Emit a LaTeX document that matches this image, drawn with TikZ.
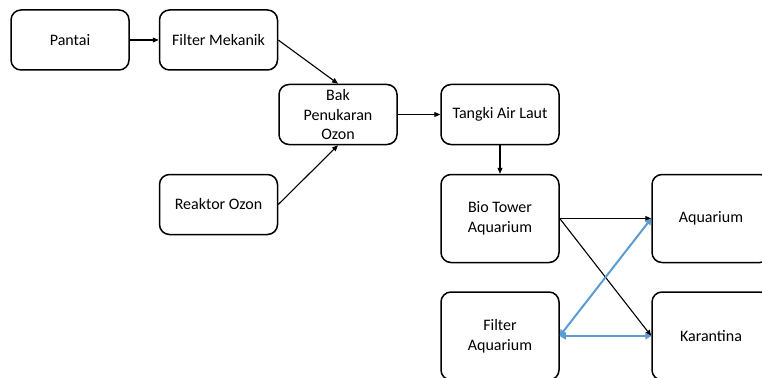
\documentclass[tikz,border=0pt]{standalone}
\usepackage{fontspec}
\setmainfont{Carlito}
\usetikzlibrary{arrows.meta}
\definecolor{blueline}{RGB}{91,155,213}
\begin{document}
\begin{tikzpicture}[x=1pt,y=-1pt,
 box/.style={draw=black, line width=1.5pt, rounded corners=10pt, minimum width=118pt, align=center, inner sep=0pt, font=\fontsize{16}{19.5}\selectfont},
 sbox/.style={box, minimum height=60pt},
 tbox/.style={box, minimum height=88pt},
 arr/.style={line width=1.1pt, -{Triangle[length=6pt,width=5pt]}},
 barr/.style={draw=blueline, line width=2pt, {Triangle[length=6pt,width=7pt]}-{Triangle[length=6pt,width=7pt]}}]
\useasboundingbox (0,0) rectangle (762,377);
\clip (0,0) rectangle (762,377);
\node[sbox] (pantai) at (70,40) {Pantai};
\node[sbox] (fm) at (218.5,40) {Filter Mekanik};
\node[sbox] (bak) at (338,114.5) {Bak\\Penukaran\\Ozon};
\node[sbox] (ro) at (218.5,204.5) {Reaktor Ozon};
\node[sbox] (tal) at (500,114.5) {Tangki Air Laut};
\node[tbox] (bio) at (500,218.5) {Bio Tower\\Aquarium};
\node[tbox] (aq) at (711,218.5) {Aquarium};
\node[tbox] (fa) at (500,336) {Filter\\Aquarium};
\node[tbox] (kar) at (711,336) {Karantina};
\draw[arr] (pantai) -- (fm);
\draw[arr] (fm.east) -- (bak.north);
\draw[arr] (ro.east) -- (bak.south);
\draw[arr] (bak) -- (tal);
\draw[arr] (tal) -- (bio);
\draw[arr] (bio.east) -- (aq.west);
\draw[arr] (bio.east) -- (kar.west);
\draw[barr] (fa.east) -- (aq.west);
\draw[barr] (fa.east) -- (kar.west);
\end{tikzpicture}
\end{document}
